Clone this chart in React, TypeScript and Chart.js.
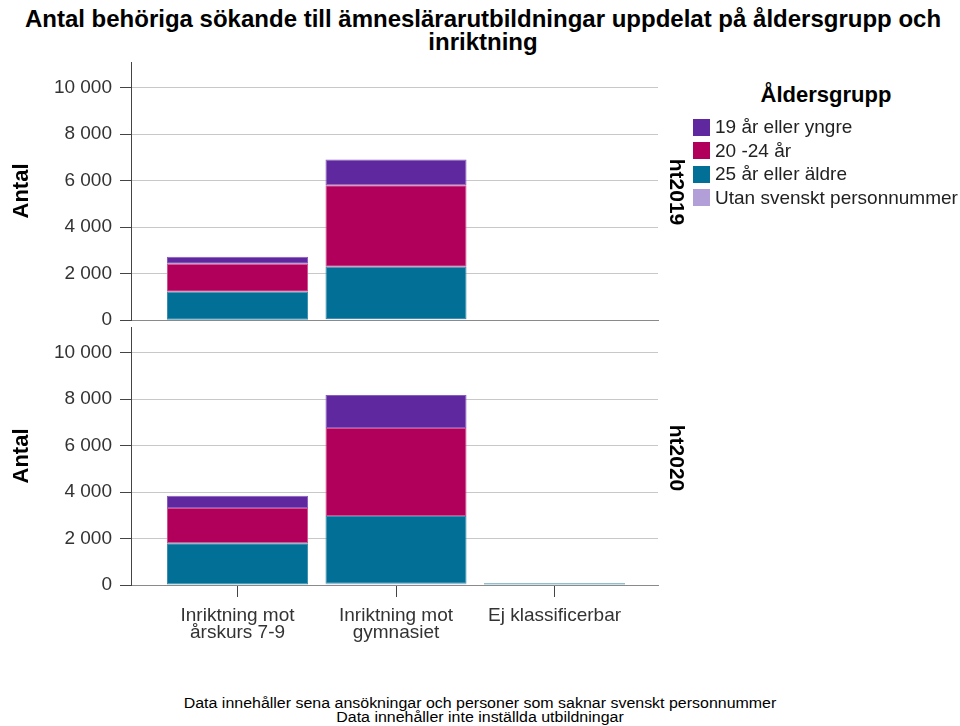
import React, { useEffect, useRef } from "react";
import { Chart, registerables } from "chart.js";

Chart.register(...registerables);

// ---- data ----
const categories: string[][] = [
  ["Inriktning mot", "årskurs 7-9"],
  ["Inriktning mot", "gymnasiet"],
  ["Ej klassificerbar"],
];
const seriesNames = ["19 år eller yngre", "20 -24 år", "25 år eller äldre", "Utan svenskt personnummer"];
const seriesColors = ["#60289f", "#b0005b", "#016f96", "#b39fd8"];
const seriesBorders = ["#8a5cc0", "#d0508e", "#3b8fb0", "#cfc0ea"];

// ht2019
const ht2019_19 = [310, 1110, 0];
const ht2019_20_24 = [1200, 3510, 0];
const ht2019_25 = [1200, 2250, 0];
const ht2019_utan = [15, 40, 0];

// ht2020
const ht2020_19 = [530, 1420, 0];
const ht2020_20_24 = [1510, 3780, 0];
const ht2020_25 = [1780, 2920, 70];
const ht2020_utan = [20, 50, 0];

const yTicks = [0, 2000, 4000, 6000, 8000, 10000];
const yMax = 11100;

const fmt = (v: number) => String(v).replace(/\B(?=(\d{3})+(?!\d))/g, " ");

function toPoints(vals: number[]) {
  return vals.map((y, i) => ({ x: i, y }));
}

function buildDatasets(v19: number[], v2024: number[], v25: number[], vUtan: number[]) {
  // bottom of stack first
  const order = [
    { idx: 3, vals: vUtan },
    { idx: 2, vals: v25 },
    { idx: 1, vals: v2024 },
    { idx: 0, vals: v19 },
  ];
  return order.map((o) => ({
    label: seriesNames[o.idx],
    data: toPoints(o.vals),
    backgroundColor: seriesColors[o.idx],
    borderColor: seriesBorders[o.idx],
    borderWidth: 1,
    borderSkipped: false as const,
    categoryPercentage: 1,
    barPercentage: 0.89,
    stack: "s",
  }));
}

const fontFam = "Arial, 'Liberation Sans', sans-serif";

function makeOptions(showX: boolean, padTop: number, padBottom: number) {
  return {
    responsive: false,
    animation: false as const,
    devicePixelRatio: 1,
    layout: { padding: { top: padTop, right: 42, bottom: padBottom, left: 0 } },
    plugins: { legend: { display: false }, tooltip: { enabled: false } },
    scales: {
      x: {
        type: "linear" as const,
        min: -0.672,
        max: 2.653,
        bounds: "data" as const,
        offset: false,
        stacked: true,
        afterBuildTicks: (s: any) => {
          s.ticks = categories.map((_, i) => ({ value: i }));
        },
        grid: {
          display: showX,
          offset: false,
          drawOnChartArea: false,
          drawTicks: showX,
          tickLength: 12,
          tickColor: "#444",
        },
        border: { display: true, color: "#8a8a8a", width: 1 },
        ticks: {
          display: showX,
          autoSkip: false,
          maxRotation: 0,
          padding: 10,
          color: "#333",
          font: { family: fontFam, size: 19, lineHeight: 0.92 },
          callback: (v: number) => (Number.isInteger(v) && categories[v] ? categories[v] : ""),
        },
        afterFit: (s: any) => {
          s.height = showX ? 60 : 0;
        },
      },
      y: {
        stacked: true,
        min: 0,
        max: yMax,
        afterBuildTicks: (s: any) => {
          s.ticks = yTicks.map((value) => ({ value }));
        },
        grid: {
          color: "#c8c8c8",
          tickColor: "#444",
          tickLength: 11,
          lineWidth: 1,
        },
        border: { display: true, color: "#444", width: 1 },
        ticks: {
          padding: 8,
          color: "#333",
          font: { family: fontFam, size: 19 },
          callback: (v: number) => fmt(v),
        },
        title: {
          display: true,
          text: "Antal",
          color: "#000",
          padding: { top: 9, bottom: 0 },
          font: { family: fontFam, size: 22, weight: "bold" as const },
        },
        afterFit: (s: any) => {
          s.width = 131;
        },
      },
    },
  };
}

function Panel(props: { datasets: any[]; showX: boolean; top: number; height: number; padTop: number; padBottom: number }) {
  const ref = useRef<HTMLCanvasElement>(null);
  useEffect(() => {
    if (!ref.current) return;
    const chart = new Chart(ref.current, {
      type: "bar",
      data: { datasets: props.datasets },
      options: makeOptions(props.showX, props.padTop, props.padBottom) as any,
    });
    return () => chart.destroy();
  }, []);
  return (
    <canvas
      ref={ref}
      width={700}
      height={props.height}
      style={{ position: "absolute", left: 0, top: props.top, width: 700, height: props.height }}
    />
  );
}

export default function App() {
  const ds2019 = buildDatasets(ht2019_19, ht2019_20_24, ht2019_25, ht2019_utan);
  const ds2020 = buildDatasets(ht2020_19, ht2020_20_24, ht2020_25, ht2020_utan);
  return (
    <div style={{ position: "absolute", left: 0, top: 0, width: 960, height: 726, background: "#fff", overflow: "hidden", fontFamily: fontFam }}>
      <div
        style={{
          position: "absolute",
          left: 0,
          width: 966,
          top: 7,
          textAlign: "center",
          fontWeight: "bold",
          fontSize: 24,
          lineHeight: "23px",
          color: "#000",
          whiteSpace: "nowrap",
        }}
      >
        Antal behöriga sökande till ämneslärarutbildningar uppdelat på åldersgrupp och
        <br />
        inriktning
      </div>

      <Panel datasets={ds2019} showX={false} top={40} height={300} padTop={22} padBottom={20} />
      <Panel datasets={ds2020} showX={true} top={300} height={360} padTop={27} padBottom={15} />

      {["ht2019", "ht2020"].map((t, i) => (
        <div
          key={t}
          style={{
            position: "absolute",
            left: 677 - 50,
            top: (i === 0 ? 192 : 458) - 12,
            width: 100,
            height: 24,
            lineHeight: "24px",
            textAlign: "center",
            fontWeight: "bold",
            fontSize: 21,
            color: "#000",
            transform: "rotate(90deg)",
          }}
        >
          {t}
        </div>
      ))}

      <div
        style={{
          position: "absolute",
          left: 726,
          width: 200,
          top: 82,
          textAlign: "center",
          fontWeight: "bold",
          fontSize: 22,
          lineHeight: "26px",
          color: "#000",
        }}
      >
        Åldersgrupp
      </div>
      {seriesNames.map((name, i) => (
        <div
          key={name}
          style={{
            position: "absolute",
            left: 693,
            top: 127 + i * 23.6 - 11,
            height: 22,
            display: "flex",
            alignItems: "center",
            whiteSpace: "nowrap",
            fontSize: 19,
            color: "#222",
          }}
        >
          <span style={{ display: "inline-block", width: 17, height: 17, background: seriesColors[i], marginRight: 5 }} />
          {name}
        </div>
      ))}

      <div
        style={{
          position: "absolute",
          left: 0,
          width: 960,
          top: 696,
          textAlign: "center",
          fontSize: 14,
          lineHeight: "14px",
          color: "#000",
          whiteSpace: "nowrap",
          transform: "scaleX(1.14)",
          transformOrigin: "480px 0",
        }}
      >
        Data innehåller sena ansökningar och personer som saknar svenskt personnummer
        <br />
        Data innehåller inte inställda utbildningar
      </div>
    </div>
  );
}
